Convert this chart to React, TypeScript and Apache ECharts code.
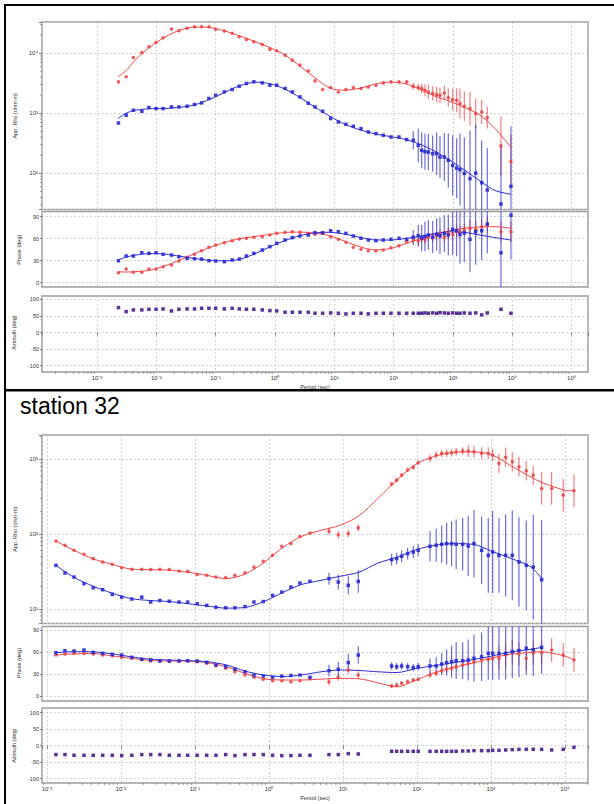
import React, { useEffect, useRef } from "react";
import * as echarts from "echarts";

// ===================== Upper sounding (no title) =====================
const periodsA = [0.0023, 0.0031, 0.0041, 0.0057, 0.0075, 0.0099, 0.013, 0.018, 0.024, 0.033, 0.044, 0.058, 0.077, 0.10, 0.14, 0.19, 0.25, 0.33, 0.44, 0.61, 0.82, 1.07, 1.48, 1.96, 2.64, 3.64, 4.72, 6.36, 8.68, 11.7, 15.7, 20.9, 28.2, 37.4, 50.4, 66.9, 90.1, 123, 166, 214, 260, 297, 337, 384, 455, 531, 604, 714, 834, 989, 1155, 1313, 1552, 1936, 2416, 3048, 3788, 6442, 9500];
const rhoXY_A = [3325, 4030, 8480, 10270, 12740, 15070, 17990, 25100, 23550, 25800, 27420, 27420, 27420, 24830, 23270, 21300, 18710, 16910, 15420, 13960, 11530, 10920, 9260, 7640, 6310, 5050, 3455, 2485, 2680, 2265, 2485, 2680, 2580, 2742, 2929, 3199, 3325, 3325, 3325, 2818, 2680, 2580, 2417, 2265, 2128, 2049, 1995, 2180, 1828, 1690, 1647, 1451, 1309, 1197, 988, 1051, 848, 285, 158];
const rhoYX_A = [689, 926, 1122, 1080, 1245, 1197, 1197, 1274, 1274, 1308, 1397, 1485, 1758, 1995, 2265, 2485, 2818, 3126, 3325, 3199, 2929, 2929, 2580, 2265, 1870, 1468, 1274, 1080, 817, 716, 656, 607, 556, 488, 459, 430, 403, 403, 365, 355, 293, 242, 230, 226, 213, 213, 187, 187, 165, 136, 122, 115, 100, 82, 101, 70, 53, 31, 61];
// error half-widths in decades
const rhoXYErr_A = [0, 0, 0, 0, 0, 0, 0, 0, 0, 0, 0, 0, 0, 0, 0, 0, 0, 0, 0, 0, 0, 0, 0, 0, 0, 0, 0, 0, 0, 0, 0, 0, 0, 0, 0, 0, 0, 0, 0, 0.06, 0.06, 0.08, 0.1, 0.12, 0.12, 0.13, 0.13, 0.12, 0.15, 0.18, 0.2, 0.25, 0.25, 0.28, 0.25, 0.2, 0.18, 0.5, 0.45];
const rhoYXErr_A = [0, 0, 0, 0, 0, 0, 0, 0, 0, 0, 0, 0, 0, 0, 0, 0, 0, 0, 0, 0, 0, 0, 0, 0, 0, 0, 0, 0, 0, 0, 0, 0, 0, 0, 0, 0, 0, 0, 0, 0.15, 0.28, 0.3, 0.3, 0.3, 0.3, 0.35, 0.35, 0.4, 0.45, 0.5, 0.5, 0.6, 0.6, 0.8, 0.8, 0.7, 0.7, 1.0, 1.0];
const phXY_A = [13.6, 18.7, 14.2, 14.2, 18.7, 18.7, 21.8, 24.1, 29.6, 34.6, 38.7, 43.6, 48.2, 51.4, 54.5, 57.3, 59.6, 60.5, 61.9, 62.7, 65, 67.3, 68.7, 69.5, 68.7, 67.3, 66, 67.3, 62.7, 59.2, 55.1, 48.2, 45.5, 43.6, 43.2, 44.6, 47.7, 50.5, 55.9, 58.2, 57, 60, 59, 62, 61, 64, 66, 62, 67, 66, 70, 69, 72, 74, 73, 76.4, 78.7, 69.5, 69.5];
const phYX_A = [30, 36.4, 36.4, 40.9, 40, 40.9, 38.7, 37.7, 35.5, 33.2, 32.7, 32.2, 30, 29.6, 28.6, 31, 32.2, 36.4, 40, 44.6, 49.1, 53.7, 58.2, 61.4, 63.7, 65, 68.2, 68.2, 70.9, 69.5, 67.3, 63.7, 60.5, 58.2, 57.3, 58.2, 59.2, 60.5, 59.2, 62, 64, 61, 63, 65, 62, 66, 64, 67, 65, 72.8, 71, 66, 68, 59.2, 69.5, 70.9, 80, 40.9, 92];
const phXYErr_A = [0, 0, 0, 0, 0, 0, 0, 0, 0, 0, 0, 0, 0, 0, 0, 0, 0, 0, 0, 0, 0, 0, 0, 0, 0, 0, 0, 0, 0, 0, 0, 0, 0, 0, 0, 0, 0, 0, 0, 6, 6, 6, 6, 6, 6, 6, 6, 6, 8, 8, 8, 8, 8, 11, 11, 11, 11, 14, 14];
const phYXErr_A = [0, 0, 0, 0, 0, 0, 0, 0, 0, 0, 0, 0, 0, 0, 0, 0, 0, 0, 0, 0, 0, 0, 0, 0, 0, 0, 0, 0, 0, 0, 0, 0, 0, 0, 0, 0, 0, 0, 0, 10, 15, 18, 20, 20, 22, 22, 25, 25, 28, 35, 35, 40, 40, 45, 45, 40, 40, 60, 60];
const azimuth_A = [75, 63, 68, 68, 70, 70, 71, 65, 70, 71, 71, 73, 73, 73, 71, 73, 71, 70, 70, 68, 66, 65, 61, 61, 61, 61, 58, 58, 59, 58, 56, 58, 58, 56, 58, 58, 58, 58, 58, 58, 58, 58, 59, 58, 59, 58, 60, 59, 58, 59, 58, 58, 59, 58, 59, 53, 59, 70, 58];
const modelPeriods_A = [0.00226, 0.00308, 0.00437, 0.00781, 0.014, 0.0251, 0.0449, 0.0804, 0.144, 0.257, 0.46, 0.824, 1.48, 2.64, 4.72, 8.45, 15.1, 27.1, 48.5, 86.8, 155, 278, 497, 891, 1595, 2853, 5106, 9506];
const modelRhoXY_A = [4030, 5100, 7600, 12590, 18480, 24150, 27120, 26610, 23270, 19200, 15550, 12330, 9260, 6070, 3900, 2610, 2420, 2610, 3050, 3290, 3100, 2510, 1920, 1580, 1240, 930, 560, 270];
const modelRhoYX_A = [816, 1000, 1122, 1189, 1202, 1259, 1386, 1711, 2239, 2872, 3285, 3100, 2512, 1820, 1259, 890, 656, 530, 455, 410, 369, 305, 233, 165, 112, 75, 52, 45];
const modelPhXY_A = [15, 14.5, 15, 17, 23, 31, 40, 48, 55, 60, 63, 66, 68.5, 69, 67.5, 64, 56.5, 49, 44.8, 46.5, 53, 60, 66.5, 71, 74.5, 76, 76.4, 74.2];
const modelPhYX_A = [31, 35, 37.5, 39.8, 39, 36, 33, 30.5, 29.8, 32, 39.5, 49, 57.5, 64, 68, 68.7, 66.2, 61.8, 58.3, 58.2, 60.2, 63.3, 67, 69.3, 68.5, 65, 61.5, 58.2];

// ===================== station 32 =====================
const periodsB = [0.00132, 0.00175, 0.00232, 0.00316, 0.00422, 0.00566, 0.00763, 0.0102, 0.014, 0.0191, 0.0252, 0.0336, 0.045, 0.0608, 0.0797, 0.107, 0.144, 0.192, 0.26, 0.347, 0.474, 0.627, 0.837, 1.12, 1.49, 1.98, 2.62, 3.58, 6.47, 8.64, 11.8, 16.1, 45.5, 53.2, 62.1, 74.9, 89.1, 104, 150, 182, 216, 252, 294, 339, 415, 493, 590, 748, 920, 1055, 1283, 1581, 1942, 2390, 3000, 3730, 4844, 6610, 9480, 13240];
const rhoXY_B = [80.7, 70.7, 60.6, 53.6, 46.9, 42.2, 39.4, 35.5, 33.7, 33.7, 33.5, 33.7, 33.5, 32, 31.8, 28.8, 28, 26.6, 26.1, 28, 30.4, 36.1, 43.2, 51.9, 68.5, 74.5, 92.5, 103, 109, 98, 102, 121, 466, 527, 615, 718, 781, 900, 1031, 1142, 1204, 1204, 1227, 1265, 1293, 1293, 1265, 1204, 1204, 1142, 883, 1064, 929, 796, 703, 615, 408, 408, 332, 379];
const rhoYX_B = [38.1, 30.1, 26.6, 21.7, 19.1, 18, 15.6, 14.3, 13.5, 14.3, 12.3, 12.9, 12.6, 12.3, 12.3, 11.7, 11.1, 10.5, 10.3, 10.3, 10.7, 12.3, 12.5, 15.1, 16.7, 19.5, 22.1, 23.3, 25.3, 22.8, 20.6, 23.2, 45.5, 46.9, 50.4, 54.7, 57.5, 60.6, 68.6, 70.8, 73, 74.5, 74.5, 73, 73, 69.2, 74.5, 60.6, 51.9, 57.5, 51.9, 51.9, 51.9, 42.3, 38.1, 36.1, 24.5, null, null, null];
const rhoXYErr_B = [0, 0, 0, 0, 0, 0, 0, 0, 0, 0, 0, 0, 0, 0, 0, 0, 0, 0, 0, 0, 0, 0, 0, 0, 0, 0, 0, 0, 0.05, 0.05, 0.05, 0.05, 0.03, 0.03, 0.03, 0.03, 0.03, 0.03, 0.05, 0.05, 0.05, 0.05, 0.05, 0.05, 0.05, 0.08, 0.08, 0.08, 0.08, 0.08, 0.13, 0.13, 0.13, 0.13, 0.13, 0.13, 0.22, 0.22, 0.22, 0.22];
const rhoYXErr_B = [0, 0, 0, 0, 0, 0, 0, 0, 0, 0, 0, 0, 0, 0, 0, 0, 0, 0, 0, 0, 0, 0, 0, 0, 0, 0, 0, 0, 0.08, 0.1, 0.12, 0.15, 0.08, 0.08, 0.08, 0.08, 0.08, 0.08, 0.2, 0.22, 0.25, 0.28, 0.3, 0.33, 0.35, 0.4, 0.45, 0.45, 0.5, 0.55, 0.5, 0.55, 0.6, 0.6, 0.6, 0.7, 0.8, null, null, null];
const phXY_B = [55.9, 57.3, 58.2, 58.2, 57.3, 55.9, 55, 52.8, 51.4, 50, 47.7, 47.7, 47.7, 47.7, 47.7, 46.8, 44.6, 41.4, 37.7, 33.2, 28.6, 25.5, 22.7, 20.9, 20.9, 19.5, 20.9, 23.5, 19.5, 25.5, 35.5, 28.6, 13.6, 15, 17.3, 19.5, 21.8, 22.7, 28.6, 30.9, 34.5, 36.4, 37.7, 40, 42.3, 44.6, 46.8, 49.1, 50, 51.4, 51.4, 55.9, 60.4, 57.3, 51.4, 58.2, 59.1, 62.7, 55.9, 49.1];
const phYX_B = [59.1, 61.8, 61.4, 62.7, 59.5, 58.2, 56.8, 55.9, 52.8, 50, 49.1, 47.7, 47.7, 47.7, 48, 47.7, 45.9, 42.3, 40, 36.4, 33.2, 28.6, 27.3, 25.5, 27, 28, 28.6, 25.5, 34.5, 36.4, 45.5, 55.9, 40.9, 40, 40.9, 40, 38.6, 40, 41, 40.9, 43.6, 45.5, 46.8, 48.2, 48.2, 49.1, 51.4, 53.6, 58.2, 58.2, 58.2, 58.2, 60.4, 62, 65, 63, 66.4, null, null, null];
const phXYErr_B = [0, 0, 0, 0, 0, 0, 0, 0, 0, 0, 0, 0, 0, 0, 0, 0, 0, 0, 0, 0, 0, 0, 0, 0, 0, 0, 0, 0, 5, 5, 5, 5, 3, 3, 3, 3, 3, 3, 4, 4, 4, 4, 4, 4, 4, 4, 4, 4, 4, 4, 16, 16, 16, 16, 16, 16, 16, 16, 16, 16];
const phYXErr_B = [0, 0, 0, 0, 0, 0, 0, 0, 0, 0, 0, 0, 0, 0, 0, 0, 0, 0, 0, 0, 0, 0, 0, 0, 0, 0, 0, 0, 8, 10, 12, 12, 5, 5, 5, 5, 5, 5, 10, 12, 15, 18, 22, 25, 25, 28, 32, 33, 36, 36, 36, 36, 36, 36, 36, 36, 36, null, null, null];
const azimuth_B = [-27, -27, -29, -29, -29, -29, -29, -30, -29, -27, -27, -27, -29, -29, -29, -29, -29, -29, -27, -30, -27, -27, -27, -29, -30, -30, -29, -29, -27, -27, -24, -25, -17, -17, -17, -17, -17, -17, -17, -17, -17, -17, -17, -17, -16, -16, -15, -15, -15, -14, -14, -13, -12, -11, -11, -11, -11, -13, -11, -5];
const modelPeriods_B = [0.00132, 0.00232, 0.00418, 0.00755, 0.0136, 0.0246, 0.0445, 0.0804, 0.145, 0.262, 0.474, 0.855, 1.55, 2.79, 5.04, 9.1, 16.4, 29.7, 53.7, 96.9, 175, 316, 571, 1032, 1864, 3367, 4887, 7328, 10980, 13240];
const modelRhoXY_B = [80.7, 60.6, 46.7, 39.4, 34, 33.4, 32.9, 30.8, 28, 25.3, 29.1, 41.7, 66.4, 93.5, 112, 131, 175, 300, 530, 860, 1100, 1240, 1260, 1150, 820, 590, 490, 425, 380, 387];
const modelRhoYX_B = [38.1, 26.3, 20.1, 16.2, 13.7, 12.9, 12.5, 11.7, 10.9, 10.2, 10.4, 12.5, 16.6, 21.2, 24, 27.2, 30.8, 40.9, 48.9, 61.6, 70.8, 74.5, 73, 58.9, 47.2, 37.1, 25.3, null, null, null];
const modelPhXY_B = [55.9, 57.5, 58, 54.7, 51.5, 48.5, 47.7, 47.6, 45.4, 40, 31, 23.5, 21.8, 21.8, 23, 24, 23.5, 18, 12.5, 21.5, 32, 39, 45, 52, 57, 59.5, 60.3, 57.5, 53, 49.1];
const modelPhYX_B = [59.1, 60.5, 60.2, 57.5, 53.5, 50.2, 49, 48.2, 46.8, 42.5, 34, 28.5, 26.5, 28.8, 33, 35.4, 34.8, 33, 32, 37.5, 41.5, 45.5, 49.5, 54.5, 60, 63.5, 66.4, null, null, null];

const stationTitle = "station 32";
const rhoAxisName = "App. Rho (ohm-m)";
const phaseAxisName = "Phase (deg)";
const azimuthAxisName = "Azimuth (deg)";
const periodAxisName = "Period (sec)";

// ===================== styling =====================
const RED = "#ef4545";
const BLUE = "#2a2ad4";
const PURPLE = "#4a1c8c";
const FONT = '"Liberation Sans", Arial, sans-serif';
const GRIDLINE = { color: "#c6c6c6", type: [2, 2] as any, width: 0.8 };
const FRAME = "#9c9c9c";

const SUP: Record<string, string> = { "-": "⁻", "0": "⁰", "1": "¹", "2": "²", "3": "³", "4": "⁴", "5": "⁵", "6": "⁶", "7": "⁷", "8": "⁸", "9": "⁹" };
function powLabel(v: number): string {
  const l = Math.log10(v);
  const r = Math.round(l);
  if (Math.abs(l - r) > 1e-6) return "";
  return "10" + String(r).split("").map((c) => SUP[c]).join("");
}

function minorValues(min: number, max: number): number[] {
  const out: number[] = [];
  for (let e = Math.floor(Math.log10(min)); e <= Math.ceil(Math.log10(max)); e++) {
    for (let k = 2; k <= 9; k++) {
      const v = k * Math.pow(10, e);
      if (v > min && v < max) out.push(v);
    }
  }
  return out;
}

type Box = { top: number; height: number };
type Station = {
  xMin: number; xMax: number; rhoMin: number; rhoMax: number;
  res: Box; phFrame: Box; phLab: Box; azFrame: Box; azLab: Box;
  periods: number[]; rhoXY: (number | null)[]; rhoYX: (number | null)[];
  rhoXYErr: (number | null)[]; rhoYXErr: (number | null)[];
  phXY: (number | null)[]; phYX: (number | null)[];
  phXYErr: (number | null)[]; phYXErr: (number | null)[];
  az: number[];
  mP: number[]; mRhoXY: (number | null)[]; mRhoYX: (number | null)[]; mPhXY: (number | null)[]; mPhYX: (number | null)[];
};

const stationA: Station = {
  xMin: 1.183e-4, xMax: 1.888e5, rhoMin: 25.1, rhoMax: 32900,
  res: { top: 22, height: 187.5 },
  phFrame: { top: 211.5, height: 75.5 }, phLab: { top: 216.7, height: 66 },
  azFrame: { top: 296, height: 76 }, azLab: { top: 299.3, height: 66.4 },
  periods: periodsA, rhoXY: rhoXY_A, rhoYX: rhoYX_A, rhoXYErr: rhoXYErr_A, rhoYXErr: rhoYXErr_A,
  phXY: phXY_A, phYX: phYX_A, phXYErr: phXYErr_A, phYXErr: phYXErr_A, az: azimuth_A,
  mP: modelPeriods_A, mRhoXY: modelRhoXY_A, mRhoYX: modelRhoYX_A, mPhXY: modelPhXY_A, mPhYX: modelPhYX_A,
};
const stationB: Station = {
  xMin: 8.56e-4, xMax: 2.05e4, rhoMin: 6.35, rhoMax: 2118,
  res: { top: 435, height: 188.5 },
  phFrame: { top: 626.5, height: 74.5 }, phLab: { top: 630, height: 66 },
  azFrame: { top: 708, height: 75 }, azLab: { top: 712.7, height: 66 },
  periods: periodsB, rhoXY: rhoXY_B, rhoYX: rhoYX_B, rhoXYErr: rhoXYErr_B, rhoYXErr: rhoYXErr_B,
  phXY: phXY_B, phYX: phYX_B, phXYErr: phXYErr_B, phYXErr: phYXErr_B, az: azimuth_B,
  mP: modelPeriods_B, mRhoXY: modelRhoXY_B, mRhoYX: modelRhoYX_B, mPhXY: modelPhXY_B, mPhYX: modelPhYX_B,
};

const LEFT = 42;
const WIDTH = 546;

function pairs(xs: number[], ys: (number | null)[]) {
  const out: number[][] = [];
  xs.forEach((x, i) => { const y = ys[i]; if (y !== null && y !== undefined) out.push([x, y]); });
  return out;
}
function errLog(xs: number[], ys: (number | null)[], es: (number | null)[]) {
  const out: number[][] = [];
  xs.forEach((x, i) => {
    const y = ys[i], e = es[i];
    if (y == null || !e) return;
    out.push([x, y / Math.pow(10, e), y * Math.pow(10, e)]);
  });
  return out;
}
function errLin(xs: number[], ys: (number | null)[], es: (number | null)[]) {
  const out: number[][] = [];
  xs.forEach((x, i) => {
    const y = ys[i], e = es[i];
    if (y == null || !e) return;
    out.push([x, y - e, y + e]);
  });
  return out;
}

function errSeries(gi: number, data: number[][], color: string) {
  return {
    type: "custom", xAxisIndex: gi, yAxisIndex: gi, clip: true, z: 2, silent: true,
    encode: { x: 0, y: [1, 2] },
    data,
    renderItem: (_p: any, api: any) => {
      const a = api.coord([api.value(0), api.value(1)]);
      const b = api.coord([api.value(0), api.value(2)]);
      return {
        type: "line",
        shape: { x1: a[0], y1: a[1], x2: b[0], y2: b[1] },
        style: { stroke: color, lineWidth: 1.1, opacity: 0.75 },
      };
    },
  };
}
function lineSeries(gi: number, data: number[][], color: string) {
  return {
    type: "line", xAxisIndex: gi, yAxisIndex: gi, data, showSymbol: false, symbol: "none",
    smooth: 0.3, z: 3, silent: true, lineStyle: { color, width: 1 },
  };
}
function pointSeries(gi: number, data: number[][], color: string, symbol: string, size = 3.5) {
  return {
    type: "scatter", xAxisIndex: gi, yAxisIndex: gi, data, symbol, symbolSize: size, z: 4, silent: true,
    itemStyle: { color, opacity: 0.9 },
  };
}

function addStation(s: Station, G: any[], X: any[], Y: any[], S: any[]) {
  const grid = (b: Box, show: boolean) => {
    G.push({
      left: LEFT, top: b.top, width: WIDTH, height: b.height, show,
      borderColor: FRAME, borderWidth: 1.5, backgroundColor: "rgba(0,0,0,0)",
      containLabel: false, outerBoundsMode: "none",
    });
    return G.length - 1;
  };
  const xLog = (gi: number, show: boolean, labels: boolean, name?: string) => {
    X.push({
      type: "log", logBase: 10, gridIndex: gi, min: s.xMin, max: s.xMax, show,
      axisLine: { show: false },
      axisTick: { show: labels, length: 3, inside: false, lineStyle: { color: "#666", width: 0.8 } },
      axisLabel: { show: labels, formatter: powLabel, fontSize: 6, color: "#333", margin: 3, fontFamily: FONT },
      splitLine: { show: true, lineStyle: GRIDLINE },
      minorTick: { show: false }, minorSplitLine: { show: false },
      name: name || "", nameLocation: "middle", nameGap: 12,
      nameTextStyle: { fontSize: 5.5, color: "#333", fontFamily: FONT },
    });
  };
  const yHidden = (gi: number, min: number, max: number) => {
    Y.push({ type: "value", gridIndex: gi, min, max, show: false, splitLine: { show: false } });
  };
  const yLabelled = (gi: number, min: number, max: number, interval: number, name: string) => {
    Y.push({
      type: "value", gridIndex: gi, min, max, interval,
      axisLine: { show: false },
      axisTick: { show: true, length: 2, lineStyle: { color: "#666", width: 0.8 } },
      axisLabel: { fontSize: 5.5, color: "#333", margin: 3, fontFamily: FONT },
      splitLine: { show: true, lineStyle: GRIDLINE },
      name, nameLocation: "middle", nameRotate: 90, nameGap: 17,
      nameTextStyle: { fontSize: 5.5, color: "#333", fontFamily: FONT },
    });
  };
  const frameRange = (frame: Box, lab: Box, lo: number, hi: number) => {
    const v = (y: number) => lo + (hi - lo) * (lab.top + lab.height - y) / lab.height;
    return [v(frame.top + frame.height), v(frame.top)];
  };

  // ---- resistivity panel ----
  const gR = grid(s.res, true);
  xLog(gR, true, false);
  Y.push({
    type: "log", logBase: 10, gridIndex: gR, min: s.rhoMin, max: s.rhoMax,
    axisLine: { show: false },
    axisTick: { show: true, length: 3, lineStyle: { color: "#666", width: 0.8 } },
    axisLabel: { formatter: powLabel, fontSize: 6, color: "#333", margin: 4, fontFamily: FONT },
    splitLine: { show: true, lineStyle: GRIDLINE },
    minorTick: { show: false }, minorSplitLine: { show: false },
    name: rhoAxisName, nameLocation: "middle", nameRotate: 90, nameGap: 17,
    nameTextStyle: { fontSize: 5.5, color: "#333", fontFamily: FONT },
  });
  S.push(errSeries(gR, errLog(s.periods, s.rhoXY, s.rhoXYErr), RED));
  S.push(errSeries(gR, errLog(s.periods, s.rhoYX, s.rhoYXErr), BLUE));
  S.push(lineSeries(gR, pairs(s.mP, s.mRhoXY), RED));
  S.push(lineSeries(gR, pairs(s.mP, s.mRhoYX), BLUE));
  S.push(pointSeries(gR, pairs(s.periods, s.rhoXY), RED, "circle"));
  S.push(pointSeries(gR, pairs(s.periods, s.rhoYX), BLUE, "rect"));
  S.push({
    type: "custom", xAxisIndex: gR, yAxisIndex: gR, silent: true, z: 5,
    data: minorValues(s.rhoMin, s.rhoMax).map((v) => [s.xMin, v]),
    renderItem: (_p: any, api: any) => {
      const p = api.coord([api.value(0), api.value(1)]);
      return { type: "line", shape: { x1: p[0] - 2, y1: p[1], x2: p[0], y2: p[1] }, style: { stroke: "#777", lineWidth: 0.7 } };
    },
  });

  // ---- phase panel ----
  const gPF = grid(s.phFrame, true);
  xLog(gPF, true, false);
  const pr = frameRange(s.phFrame, s.phLab, 0, 90);
  yHidden(gPF, pr[0], pr[1]);
  const gPL = grid(s.phLab, false);
  xLog(gPL, false, false);
  yLabelled(gPL, 0, 90, 30, phaseAxisName);
  S.push(errSeries(gPF, errLin(s.periods, s.phXY, s.phXYErr), RED));
  S.push(errSeries(gPF, errLin(s.periods, s.phYX, s.phYXErr), BLUE));
  S.push(lineSeries(gPF, pairs(s.mP, s.mPhXY), RED));
  S.push(lineSeries(gPF, pairs(s.mP, s.mPhYX), BLUE));
  S.push(pointSeries(gPF, pairs(s.periods, s.phXY), RED, "circle"));
  S.push(pointSeries(gPF, pairs(s.periods, s.phYX), BLUE, "rect"));

  // ---- azimuth panel ----
  const gAF = grid(s.azFrame, true);
  xLog(gAF, true, true, periodAxisName);
  const ar = frameRange(s.azFrame, s.azLab, -100, 100);
  yHidden(gAF, ar[0], ar[1]);
  const gAL = grid(s.azLab, false);
  xLog(gAL, false, false);
  yLabelled(gAL, -100, 100, 50, azimuthAxisName);
  S.push(pointSeries(gAF, pairs(s.periods, s.az), PURPLE, "rect", 3.5));
  S.push({
    type: "custom", xAxisIndex: gAF, yAxisIndex: gAF, silent: true, z: 5,
    data: minorValues(s.xMin, s.xMax).map((v) => [v, ar[0]]),
    renderItem: (_p: any, api: any) => {
      const p = api.coord([api.value(0), api.value(1)]);
      return { type: "line", shape: { x1: p[0], y1: p[1], x2: p[0], y2: p[1] + 2 }, style: { stroke: "#777", lineWidth: 0.7 } };
    },
  });
}

function buildOption() {
  const G: any[] = [], X: any[] = [], Y: any[] = [], S: any[] = [];
  addStation(stationA, G, X, Y, S);
  addStation(stationB, G, X, Y, S);
  return {
    animation: false,
    backgroundColor: "#ffffff",
    textStyle: { fontFamily: FONT },
    grid: G, xAxis: X, yAxis: Y, series: S,
    graphic: [
      { type: "rect", silent: true, shape: { x: 4, y: 4, width: 610, height: 2 }, style: { fill: "#000" } },
      { type: "rect", silent: true, shape: { x: 4, y: 4, width: 2, height: 800 }, style: { fill: "#000" } },
      { type: "rect", silent: true, shape: { x: 4, y: 389, width: 610, height: 2.5 }, style: { fill: "#000" } },
      {
        type: "text", silent: true, x: 20, y: 406,
        style: { text: stationTitle, font: '23px "Liberation Sans", Arial, sans-serif', fill: "#000", verticalAlign: "middle" },
      },
    ],
  };
}

export default function App() {
  const ref = useRef<HTMLDivElement>(null);
  useEffect(() => {
    if (!ref.current) return;
    const chart = echarts.init(ref.current, null, { renderer: "svg", width: 614, height: 804 });
    chart.setOption(buildOption() as any);
    return () => chart.dispose();
  }, []);
  return (
    <div
      ref={ref}
      style={{ position: "absolute", left: 0, top: 0, width: 614, height: 804, background: "#fff" }}
    />
  );
}
